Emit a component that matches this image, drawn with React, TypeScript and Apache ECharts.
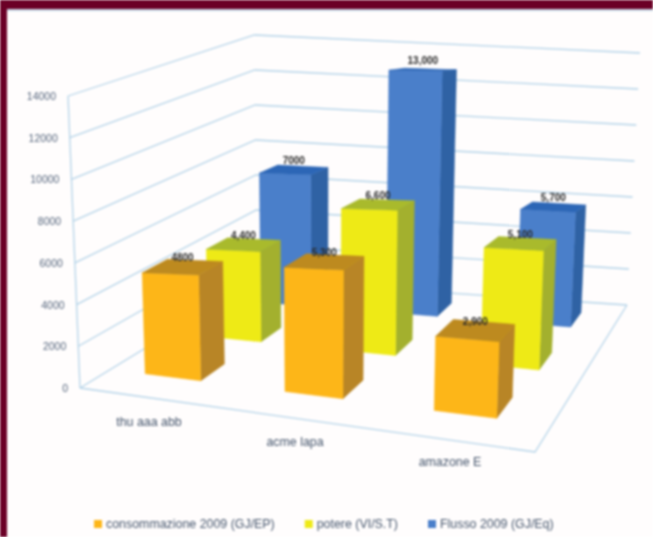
import React, { useEffect, useRef } from "react";
import * as echarts from "echarts";

const categories = ["thu aaa abb", "acme lapa", "amazone E"];
const seriesNames = ["consommazione 2009 (GJ/EP)", "potere (VI/S.T)", "Flusso 2009 (GJ/Eq)"];
const orangeValues = [4800, 5300, 2900];
const yellowValues = [4400, 6600, 5100];
const blueValues = [7000, 12600, 5700];
const orangeLabels = ["4800", "5,300", "2,900"];
const yellowLabels = ["4,400", "6,600", "5,100"];
const blueLabels = ["7000", "13,000", "5,700"];
const valueTicks = [0, 2000, 4000, 6000, 8000, 10000, 12000, 14000];

const W = 653, H = 537;
const GRID_TOP = 96, GRID_BOTTOM_Y = 388;

function homography(p0: number[], p1: number[], p2: number[], p3: number[]) {
  const dx1 = p1[0] - p2[0], dx2 = p3[0] - p2[0], dx3 = p0[0] - p1[0] + p2[0] - p3[0];
  const dy1 = p1[1] - p2[1], dy2 = p3[1] - p2[1], dy3 = p0[1] - p1[1] + p2[1] - p3[1];
  const den = dx1 * dy2 - dx2 * dy1;
  const g = (dx3 * dy2 - dx2 * dy3) / den;
  const h = (dx1 * dy3 - dx3 * dy1) / den;
  const a = p1[0] - p0[0] + g * p1[0], b = p3[0] - p0[0] + h * p3[0], c = p0[0];
  const d = p1[1] - p0[1] + g * p1[1], e = p3[1] - p0[1] + h * p3[1], f = p0[1];
  return (u: number, w: number) => {
    const z = g * u + h * w + 1;
    return [(a * u + b * w + c) / z, (d * u + e * w + f) / z];
  };
}
// floor of the 3D box as it stands on the picture, box height at its corners, and where verticals meet
const floorMap = homography([80, 388], [535, 452], [627, 305], [257, 280]);
const HEIGHT_FL = 292, HEIGHT_FR = 400, HEIGHT_BR = 252, HEIGHT_BL = 245;
const VP = [320, 6249];
function project(u: number, w: number, v: number): number[] {
  const p = floorMap(u, w);
  const h = ((1 - w) * ((1 - u) * HEIGHT_FL + u * HEIGHT_FR) + w * ((1 - u) * HEIGHT_BL + u * HEIGHT_BR)) * v;
  return [p[0] + ((p[0] - VP[0]) / (VP[1] - p[1])) * h, p[1] - h];
}

const BAR_DU = [0.148, 0.132, 0.122], CAT_SHIFT = [-0.009, 0.013, 0.004], BAR_DW = 0.125, BASE_DU = 0.135;
const rows = [
  { w0: 0.14, shift: 0.007, front: "#fdb618", top: "#bd8a1f", side: "#b88526", labels: orangeLabels },
  { w0: 0.45, shift: 0.0195, front: "#eeea16", top: "#a9ba2c", side: "#a3b02e", labels: yellowLabels },
  { w0: 0.78, shift: 0.02, front: "#4a7fca", top: "#2c66b6", side: "#2f62a4", labels: blueLabels },
];

function barSeries(name: string, values: number[], rowIndex: number) {
  const row = rows[rowIndex];
  return {
    name,
    type: "custom",
    coordinateSystem: "cartesian2d",
    z: 5 - rowIndex,
    itemStyle: { color: row.front },
    data: values.map((v, i) => [i, v]),
    renderItem: (_p: any, api: any) => {
      const i = api.value(0);
      const pt = api.coord([i, api.value(1)]);
      const v = (GRID_BOTTOM_Y - pt[1]) / (GRID_BOTTOM_Y - GRID_TOP);
      const u0 = pt[0] / W + row.shift + CAT_SHIFT[i] - BASE_DU / 2;
      const u1 = u0 + BAR_DU[i];
      const w0 = row.w0, w1 = w0 + BAR_DW;
      const face = (pts: number[][], fill: string) => ({
        type: "polygon",
        shape: { points: pts },
        style: { fill, stroke: fill, lineWidth: 0.5 },
      });
      const tc = project((u0 + u1) / 2, (w0 + w1) / 2, v);
      return {
        type: "group",
        children: [
          face([project(u1, w0, 0), project(u1, w1, 0), project(u1, w1, v), project(u1, w0, v)], row.side),
          face([project(u0, w0, 0), project(u1, w0, 0), project(u1, w0, v), project(u0, w0, v)], row.front),
          face([project(u0, w0, v), project(u1, w0, v), project(u1, w1, v), project(u0, w1, v)], row.top),
          {
            type: "text",
            x: tc[0],
            y: tc[1] - 4,
            style: {
              text: row.labels[i],
              fill: "#2b2b2b",
              font: "bold 10px 'Liberation Sans'",
              align: "center",
              verticalAlign: "bottom",
            },
          },
        ],
      };
    },
  };
}

const gridColor = "#b4d3e8";
const wallSeries = {
  type: "custom",
  coordinateSystem: "cartesian2d",
  z: 1,
  silent: true,
  data: valueTicks.map((t) => [0, t]),
  renderItem: (_p: any, api: any) => {
    const t = api.value(1);
    const v = (GRID_BOTTOM_Y - api.coord([0, t])[1]) / (GRID_BOTTOM_Y - GRID_TOP);
    const a = project(0, 0, v), b = project(0, 1, v), c = project(1, 1, v);
    const children: any[] = [
      { type: "polyline", shape: { points: [a, b, c] }, style: { fill: "none", stroke: gridColor, lineWidth: 1.3 } },
      {
        type: "text",
        x: a[0] - 12,
        y: a[1],
        style: {
          text: String(t),
          fill: "#55657c",
          font: "10.5px 'Liberation Sans'",
          align: "right",
          verticalAlign: "middle",
        },
      },
    ];
    if (t === 0) {
      children.push({
        type: "polyline",
        shape: { points: [project(0, 0, 0), project(1, 0, 0), project(1, 1, 0)] },
        style: { fill: "none", stroke: gridColor, lineWidth: 1.3 },
      });
      children.push({
        type: "line",
        shape: { x1: a[0], y1: a[1], x2: project(0, 0, 1)[0], y2: project(0, 0, 1)[1] },
        style: { stroke: gridColor, lineWidth: 1.3 },
      });
    }
    return { type: "group", children };
  },
};

const catLabelPos = [[149, 422], [295, 442], [450, 462]];
const catSeries = {
  type: "custom",
  coordinateSystem: "cartesian2d",
  z: 2,
  silent: true,
  data: categories.map((c, i) => [i, 0]),
  renderItem: (_p: any, api: any) => {
    const i = api.value(0);
    return {
      type: "text",
      x: catLabelPos[i][0],
      y: catLabelPos[i][1],
      style: {
        text: categories[i],
        fill: "#45556c",
        font: "12.4px 'Liberation Sans'",
        align: "center",
        verticalAlign: "middle",
      },
    };
  },
};

export default function App() {
  const ref = useRef<HTMLDivElement>(null);
  useEffect(() => {
    document.body.style.margin = "0";
    document.body.style.background = "#fff";
    const chart = echarts.init(ref.current!, undefined, { renderer: "svg" });
    chart.setOption({
      animation: false,
      backgroundColor: "transparent",
      grid: { left: 0, right: 0, top: GRID_TOP, bottom: H - GRID_BOTTOM_Y },
      xAxis: { type: "category", data: categories, show: false },
      yAxis: { type: "value", min: 0, max: 14000, interval: 2000, show: false },
      legend: {
        data: seriesNames,
        left: 89,
        top: 513,
        itemWidth: 8,
        itemHeight: 8,
        itemGap: 30,
        icon: "rect",
        textStyle: { fontSize: 12.4, color: "#45556c", fontFamily: "Liberation Sans", padding: [0, 0, 0, -1] },
      },
      series: [
        barSeries(seriesNames[0], orangeValues, 0),
        barSeries(seriesNames[1], yellowValues, 1),
        barSeries(seriesNames[2], blueValues, 2),
        wallSeries,
        catSeries,
      ],
    });
    return () => chart.dispose();
  }, []);
  return (
    <div style={{ position: "fixed", left: 0, top: 0, width: W, height: H, overflow: "hidden", background: "#fff" }}>
      <div style={{ position: "absolute", left: 0, top: 0, width: W, height: H, filter: "blur(0.9px)", background: "#6b0026" }}>
        <div style={{ position: "absolute", left: 7, top: 9, right: 0, bottom: 0, background: "#fffdfd", borderTop: "2px solid #c3d6e4" }} />
        <div ref={ref} style={{ position: "absolute", left: 0, top: 0, width: W, height: H }} />
      </div>
    </div>
  );
}
